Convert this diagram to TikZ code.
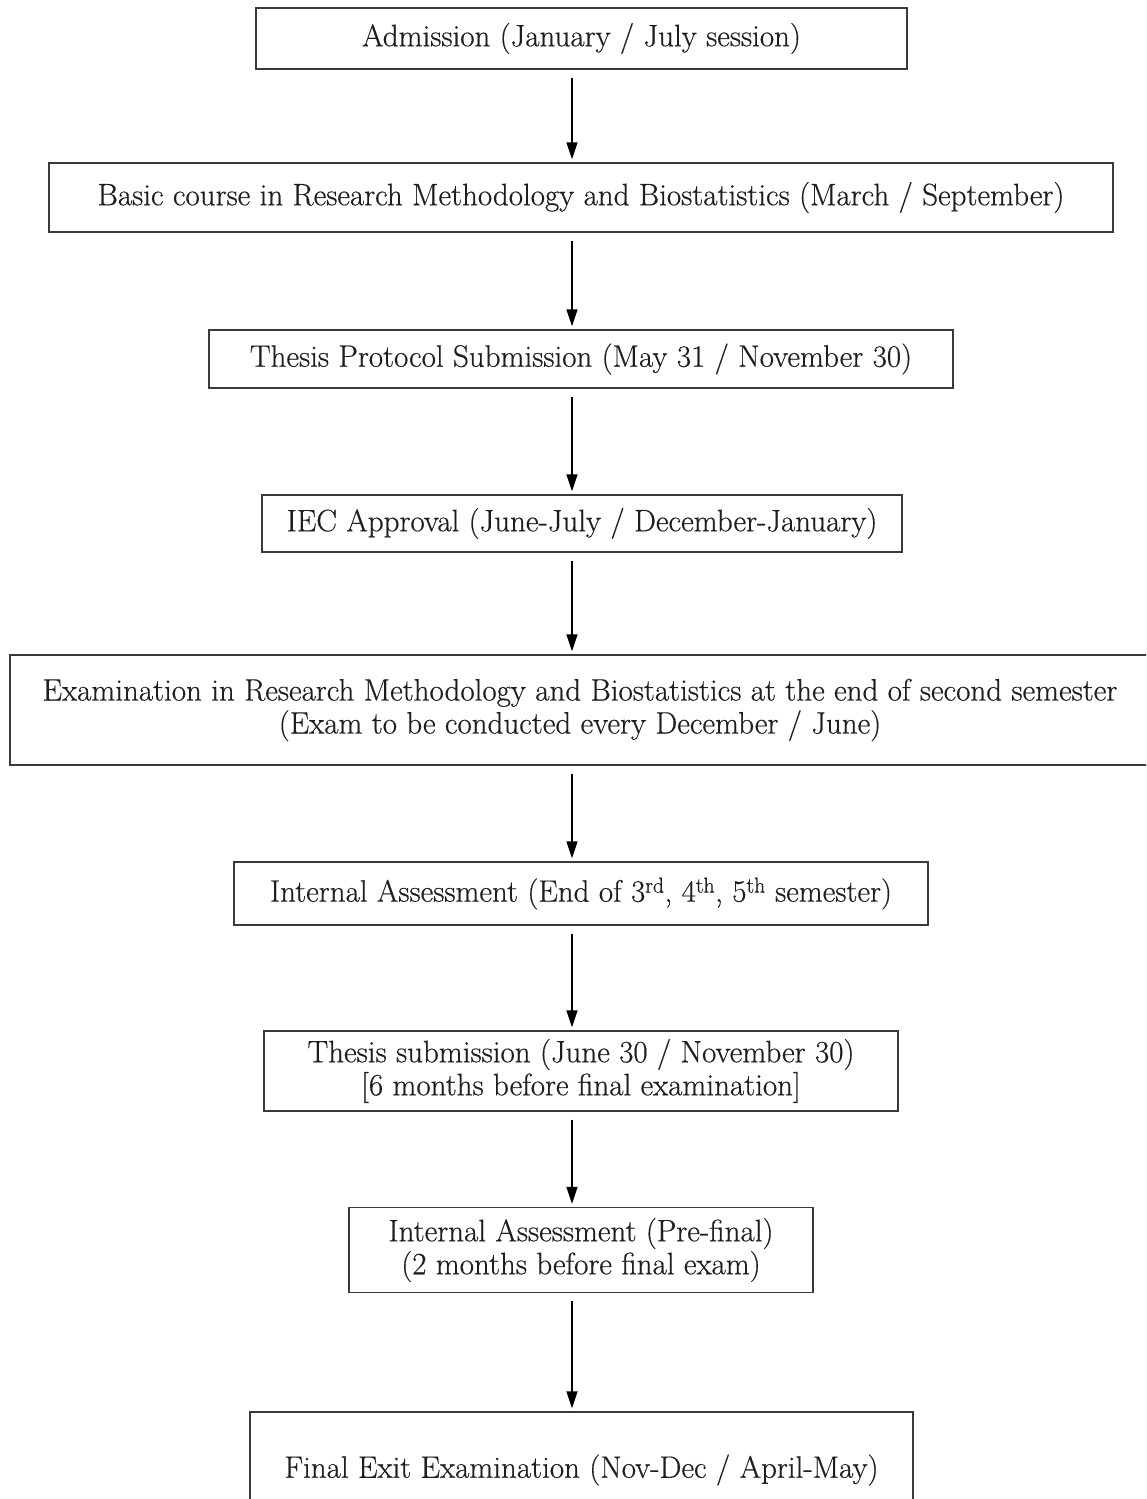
\documentclass[tikz,border=0pt]{standalone}
\usepackage{fontspec}
\newfontfamily\boxfont{Latin Modern Roman}[FakeBold=0.45]
\usetikzlibrary{arrows.meta}
\definecolor{boxline}{HTML}{3A3A3A}
\definecolor{txt}{HTML}{1E1E1E}
\begin{document}
\begin{tikzpicture}[x=1pt,y=-1pt,
  stepbox/.style={draw=boxline,line width=1.4pt,text=txt,align=center,inner sep=0pt,
    font=\boxfont\fontsize{31}{33}\selectfont},
  flow/.style={draw=black,line width=1.5pt,-{Triangle[length=17pt,width=11pt]},shorten <=8pt,shorten >=3pt}]
\useasboundingbox (0,0) rectangle (1146,1499);
\clip (0,0) rectangle (1146,1499);
\fill[white] (0,0) rectangle (1146,1499);
\coordinate (ax) at (572,0);
\node[stepbox,minimum width=651pt,minimum height=61pt] (adm) at (581.5,38.5) {Admission (January / July session)};
\node[stepbox,minimum width=1064pt,minimum height=69pt] (basic) at (581,197.5) {Basic course in Research Methodology and Biostatistics (March / September)};
\node[stepbox,minimum width=744pt,minimum height=58pt] (prot) at (581,359) {Thesis Protocol Submission (May 31 / November 30)};
\node[stepbox,minimum width=640pt,minimum height=57pt] (iec) at (582,523.5) {IEC Approval (June-July / December-January)};
\node[stepbox,minimum width=1140pt,minimum height=110pt] (exam) at (580,710) {Examination in Research Methodology and Biostatistics at the end of second semester\\(Exam to be conducted every December / June)};
\node[stepbox,minimum width=694pt,minimum height=63pt] (ia) at (581,893.5) {Internal Assessment (End of 3\textsuperscript{rd}, 4\textsuperscript{th}, 5\textsuperscript{th} semester)};
\node[stepbox,minimum width=634pt,minimum height=80pt] (ts) at (581,1071) {Thesis submission (June 30 / November 30)\\ {[6 months before final examination]}};
\node[stepbox,minimum width=464pt,minimum height=85pt] (iap) at (581,1250) {Internal Assessment (Pre-final)\\(2 months before final exam)};
\node[stepbox,minimum width=663pt,minimum height=116pt] (fin) at (581.5,1470) {Final Exit Examination (Nov-Dec / April-May)};
\draw[flow] (adm.south -| ax) -- (basic.north -| ax);
\draw[flow] (basic.south -| ax) -- (prot.north -| ax);
\draw[flow] (prot.south -| ax) -- (iec.north -| ax);
\draw[flow] (iec.south -| ax) -- (exam.north -| ax);
\draw[flow] (exam.south -| ax) -- (ia.north -| ax);
\draw[flow] (ia.south -| ax) -- (ts.north -| ax);
\draw[flow] (ts.south -| ax) -- (iap.north -| ax);
\draw[flow] (iap.south -| ax) -- (fin.north -| ax);
\end{tikzpicture}
\end{document}
